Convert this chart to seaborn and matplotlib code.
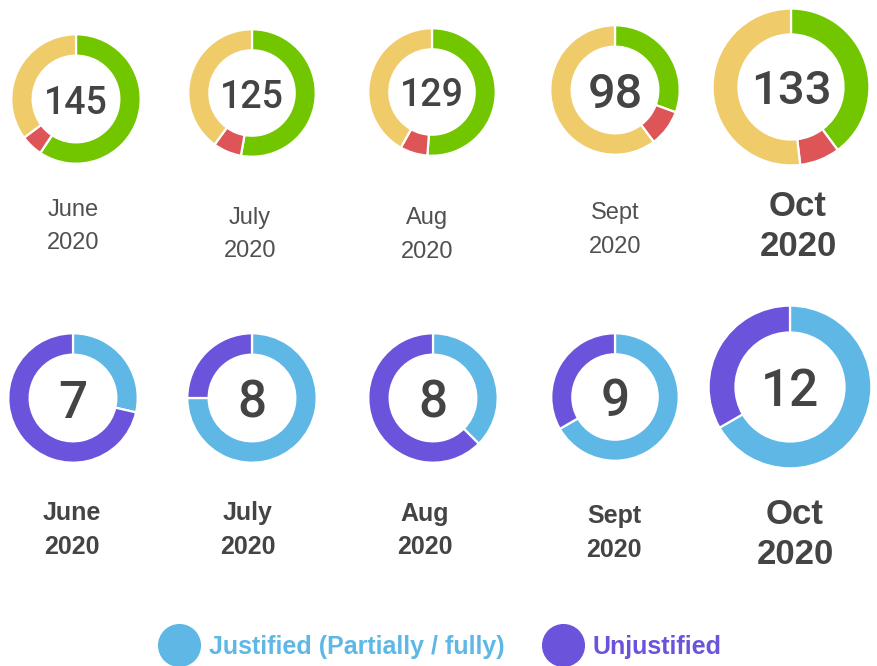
import matplotlib
matplotlib.use("Agg")
import matplotlib.pyplot as plt
from matplotlib.lines import Line2D
import seaborn as sns

# data
months = ["June", "July", "Aug", "Sept", "Oct"]
year = "2020"
resolved = [86, 66, 66, 30, 53]        # green
not_resolved = [8, 9, 9, 9, 11]        # red
pending = [51, 50, 54, 59, 69]         # yellow
justified = [2, 6, 3, 6, 8]            # blue
unjustified = [5, 2, 5, 3, 4]          # purple

# colours
green, red, yellow = "#72C600", "#DE5558", "#EFCB6A"
blue, purple = "#5EB7E5", "#6C53DB"
txt = "#444444"

sns.set_theme(style="white")
narrow = ["Liberation Sans Narrow", "Liberation Sans", "DejaVu Sans"]

W, H = 878, 666
fig = plt.figure(figsize=(W / 100, H / 100), dpi=100)
fig.patch.set_facecolor("white")

# layout (pixel centres / radii)
top_cx = [76, 252, 432, 615, 791]
top_cy = [99, 93, 92, 90, 87]
top_r = [66, 65, 65, 66, 80]
bot_cx = [73, 252, 433, 615, 790]
bot_cy = [398, 398, 398, 397, 387]
bot_r = [66, 66, 66, 65, 83]
num_size_top = [27, 27, 27, 35, 34]
num_size_bot = [37, 37, 37, 37, 37]


def donut(cx, cy, r, vals, cols, size):
    ax = fig.add_axes([(cx - r) / W, 1 - (cy + r) / H, 2 * r / W, 2 * r / H])
    ax.pie(vals, colors=cols, startangle=90, counterclock=False, radius=1,
           wedgeprops=dict(width=0.33, edgecolor="white", linewidth=1.6))
    ax.set_xlim(-1.02, 1.02)
    ax.set_ylim(-1.02, 1.02)
    ax.text(0, 0, str(sum(vals)), ha="center", va="center_baseline",
            fontsize=size, color=txt, fontweight="medium",
            family=["Roboto", "DejaVu Sans"])
    ax.axis("off")


def ftext(x, y, s, **kw):
    fig.text(x / W, 1 - y / H, s, ha="center", va="center", **kw)


for i in range(5):
    donut(top_cx[i], top_cy[i], top_r[i],
          [resolved[i], not_resolved[i], pending[i]], [green, red, yellow],
          num_size_top[i])
    donut(bot_cx[i], bot_cy[i], bot_r[i],
          [justified[i], unjustified[i]], [blue, purple], num_size_bot[i])

# top row labels
top_lab_x = [73, 250, 427, 615, 798]
top_lab_y1 = [210, 218, 218, 213, 207]
top_lab_y2 = [243, 251, 252, 247, 246]
for i in range(4):
    ftext(top_lab_x[i], top_lab_y1[i], months[i], fontsize=17, color="#505050", family=narrow)
    ftext(top_lab_x[i], top_lab_y2[i], year, fontsize=17, color="#505050", family=narrow)
ftext(top_lab_x[4], top_lab_y1[4], months[4], fontsize=25, color=txt, family=narrow, fontweight="bold")
ftext(top_lab_x[4], top_lab_y2[4], year, fontsize=25, color=txt, family=narrow, fontweight="bold")

# bottom row labels
bot_lab_x = [72, 248, 425, 614, 795]
bot_lab_y1 = [513, 513, 514, 516, 515]
bot_lab_y2 = [547, 547, 547, 550, 554]
for i in range(4):
    ftext(bot_lab_x[i], bot_lab_y1[i], months[i], fontsize=18, color=txt, family=narrow, fontweight="bold")
    ftext(bot_lab_x[i], bot_lab_y2[i], year, fontsize=18, color=txt, family=narrow, fontweight="bold")
ftext(bot_lab_x[4], bot_lab_y1[4], months[4], fontsize=25, color=txt, family=narrow, fontweight="bold")
ftext(bot_lab_x[4], bot_lab_y2[4], year, fontsize=25, color=txt, family=narrow, fontweight="bold")

# legend
handles = [Line2D([], [], marker="o", ls="", markersize=30, color=blue),
           Line2D([], [], marker="o", ls="", markersize=30, color=purple)]
leg = fig.legend(handles, ["Justified (Partially / fully)", "Unjustified"],
                 loc="center", bbox_to_anchor=(438 / W, 1 - 647 / H), ncol=2,
                 frameon=False, handletextpad=0.2, columnspacing=1.3,
                 prop=dict(family=narrow, weight="bold", size=18))
for t, c in zip(leg.get_texts(), [blue, purple]):
    t.set_color(c)

fig.savefig("out.png", dpi=100, facecolor="white")
